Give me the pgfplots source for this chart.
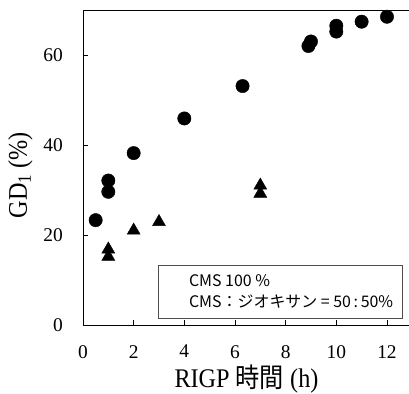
\documentclass[border=0pt]{standalone}
\usepackage{fontspec}
\setmainfont{Liberation Serif}
\newfontfamily\jp{Noto Sans CJK JP}
\usepackage{graphicx}
\usepackage{pgfplots}
\pgfplotsset{compat=1.18}
\begin{document}
\begin{tikzpicture}
\begin{axis}[
  name=ax,
  scale only axis,
  width=326bp, height=315bp,
  xmin=0, xmax=12.87, ymin=0, ymax=70,
  axis x line*=box, axis y line*=left,
  xtick={0,2,4,6,8,10,12}, ytick={0,20,40,60},
  xtick pos=lower,
  tick align=inside,
  major tick length=5bp,
  tick style={black, line width=0.8pt},
  axis line style={black, line width=0.9pt},
  /pgf/number format/assume math mode=true,
  ticklabel style={font=\fontsize{19.5}{22}\selectfont, inner sep=0pt},
  xticklabel style={yshift=-20bp},
  yticklabel style={xshift=-20bp},
  xlabel={\scalebox{0.9}[1]{RIGP {\jp 時間} (h)}},
  ylabel={\scalebox{0.9}[1]{GD\textsubscript{1} (\%)}},
  label style={font=\fontsize{27}{30}\selectfont, inner sep=0pt},
  xlabel style={at={(axis description cs:0.5015,0)}, anchor=base, yshift=-63bp},
  ylabel style={at={(axis description cs:0,0.476)}, anchor=base, yshift=56bp},
  clip=false,
]
\addplot[only marks, mark=*, mark size=6.7bp, black] coordinates {
 (0.5,23.3) (1,32.1) (1,29.6) (2,38.2) (4,45.9) (6.3,53.1)
 (8.9,62.0) (9,63.0) (10,65.2) (10,66.5) (11,67.4) (12,68.5)
};
\addplot[only marks, mark=triangle*, mark size=7.5bp, black] coordinates {
 (1,16.8) (1,15.2) (2,21.0) (3,22.9) (7,31.0) (7,29.2)
};
\node[draw=gray!60!black, line width=0.8pt, anchor=north west, minimum width=244bp, minimum height=53bp, inner sep=0pt] at (axis cs:2.96,13.33) {};
\node[anchor=base west, inner sep=0pt, font=\jp\fontsize{16}{20}\selectfont] at (axis cs:4.18,8.56) {CMS 100 \%};
\node[anchor=base west, inner sep=0pt, font=\jp\fontsize{16}{20}\selectfont] at (axis cs:4.18,3.78) {CMS：ジオキサン = 50\,:\,50\%};
\end{axis}
\pgfresetboundingbox
\useasboundingbox ([xshift=-83bp,yshift=-69bp]ax.south west) rectangle ([xshift=0bp,yshift=10bp]ax.north east);
\end{tikzpicture}
\end{document}
